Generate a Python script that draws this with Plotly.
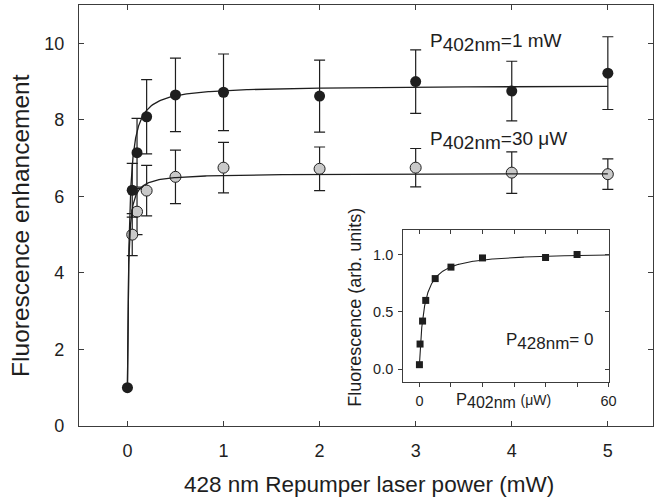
import numpy as np
import plotly.graph_objects as go

# ---------------- data ----------------
# Main panel: 428 nm repumper power (mW) vs fluorescence enhancement
power_1mw = [0, 0.05, 0.1, 0.2, 0.5, 1, 2, 3, 4, 5]
enh_1mw = [1.0, 6.16, 7.14, 8.08, 8.65, 8.72, 8.62, 9.0, 8.75, 9.22]
err_1mw = [None, 0.7, 0.9, 0.97, 0.96, 1.0, 0.94, 0.83, 0.78, 0.95]

power_30uw = [0.05, 0.1, 0.2, 0.5, 1, 2, 3, 4, 5]
enh_30uw = [5.0, 5.6, 6.15, 6.51, 6.75, 6.72, 6.75, 6.62, 6.58]
err_30uw = [0.55, 0.6, 0.66, 0.7, 0.66, 0.57, 0.5, 0.54, 0.4]

# Saturation-fit parameters  y = base + amp * x / (x + sat)
fit_1mw = dict(base=1.0, amp=7.9, sat=0.018)
fit_30uw = dict(base=1.0, amp=5.6, sat=0.010)

# Inset: P402nm (uW) vs fluorescence (arb. units), P428nm = 0
p402_uw = [0, 0.2, 1, 2, 5, 10, 20, 40, 50]
fluor = [0.04, 0.22, 0.42, 0.60, 0.79, 0.89, 0.97, 0.974, 1.0]
fit_inset = dict(base=0.04, amp=0.98, sat=1.5)

main_xticks = [0, 1, 2, 3, 4, 5]
main_yticks = [0, 2, 4, 6, 8, 10]
inset_xticks = [0, 60]
inset_xminor = 10
inset_yticks = [0, 0.5, 1.0]


def sat_curve(x, p):
    x = np.asarray(x, dtype=float)
    return p["base"] + p["amp"] * x / (x + p["sat"])


xfit = np.concatenate([np.linspace(0, 0.2, 300), np.linspace(0.2, 5, 300)[1:]])
xfit_in = np.concatenate([np.linspace(0, 5, 200), np.linspace(5, 60.2, 300)[1:]])

# ---------------- geometry ----------------
W, H = 660, 500
PL, PR, PT, PB = 79, 660, 5, 425.7


def paper(px, py):
    return (px - PL) / (PR - PL), (PB - py) / (PB - PT)


FONT = "Liberation Sans, Arial, Helvetica, sans-serif"
INK = "#1e1e1e"
AX = "#3c3c3c"

fig = go.Figure()

# gray series (P402 = 30 uW)
fig.add_trace(go.Scatter(
    x=power_30uw, y=enh_30uw, mode="markers",
    marker=dict(size=11, color="#c9c9c9", line=dict(color=INK, width=1)),
    error_y=dict(type="data", array=err_30uw, color=INK, thickness=1.2, width=5.5),
    showlegend=False, cliponaxis=False))
# black series (P402 = 1 mW)
fig.add_trace(go.Scatter(
    x=power_1mw, y=enh_1mw, mode="markers",
    marker=dict(size=11, color=INK, line=dict(color=INK, width=0)),
    error_y=dict(type="data", array=err_1mw, color=INK, thickness=1.2, width=5.5),
    showlegend=False, cliponaxis=False))
# fit curves
fig.add_trace(go.Scatter(x=xfit, y=sat_curve(xfit, fit_30uw), mode="lines",
                         line=dict(color=INK, width=1.3), showlegend=False))
fig.add_trace(go.Scatter(x=xfit, y=sat_curve(xfit, fit_1mw), mode="lines",
                         line=dict(color=INK, width=1.3), showlegend=False))

# inset
fig.add_trace(go.Scatter(x=xfit_in, y=sat_curve(xfit_in, fit_inset), mode="lines",
                         line=dict(color=INK, width=1.1), xaxis="x2", yaxis="y2",
                         showlegend=False))
fig.add_trace(go.Scatter(x=p402_uw, y=fluor, mode="markers",
                         marker=dict(symbol="square", size=7, color=INK),
                         xaxis="x2", yaxis="y2", showlegend=False, cliponaxis=False))
# empty traces to instantiate the mirrored inside-tick axes of the inset
fig.add_trace(go.Scatter(x=[], y=[], xaxis="x3", yaxis="y2", showlegend=False))
fig.add_trace(go.Scatter(x=[], y=[], xaxis="x2", yaxis="y3", showlegend=False))

ix0, _ = paper(407.3, 0)
ix1, _ = paper(615.7, 0)
_, iy0 = paper(0, 381.3)
_, iy1 = paper(0, 230)

common = dict(showgrid=False, zeroline=False, showline=True, linecolor=AX, linewidth=1.3,
              tickcolor=AX, tickwidth=1.2)

fig.update_layout(
    width=W, height=H,
    margin=dict(l=PL, r=W - PR, t=PT, b=H - PB, pad=0),
    paper_bgcolor="white", plot_bgcolor="white",
    font=dict(family=FONT, color=INK),
    xaxis=dict(range=[-0.504, 5.47], tickvals=main_xticks, ticks="inside", ticklen=5,
               mirror="ticks", tickfont=dict(size=18), ticklabelstandoff=8, **common),
    yaxis=dict(range=[0, 11], tickvals=main_yticks, ticks="inside", ticklen=5,
               mirror="ticks", tickfont=dict(size=18), ticklabelstandoff=10, **common),
    xaxis2=dict(domain=[ix0, ix1], anchor="y2", range=[-5.1, 60.2], tickvals=inset_xticks,
                ticks="outside", ticklen=4, mirror=True,
                minor=dict(dtick=inset_xminor, tick0=0, ticks="outside", ticklen=4,
                           tickcolor=AX, tickwidth=1.2),
                tickfont=dict(size=14.5), ticklabelstandoff=2, **common),
    yaxis2=dict(domain=[iy0, iy1], anchor="x2", range=[-0.107, 1.212], tickvals=inset_yticks,
                tickformat=".1f", ticks="outside", ticklen=4, mirror=True,
                tickfont=dict(size=14.5), ticklabelstandoff=2, **common),
    xaxis3=dict(overlaying="x2", anchor="y2", side="top", range=[-5.1, 60.2],
                tickmode="linear", tick0=0, dtick=inset_xminor, ticks="inside", ticklen=4,
                showticklabels=False, showgrid=False, zeroline=False, showline=False,
                tickcolor=AX, tickwidth=1.2),
    yaxis3=dict(overlaying="y2", anchor="x2", side="right", range=[-0.107, 1.212],
                tickvals=inset_yticks, ticks="inside", ticklen=4, showticklabels=False,
                showgrid=False, zeroline=False, showline=False, tickcolor=AX, tickwidth=1.2),
)

ann = []


def add_text(text, px, py, size, xanchor="center", yanchor="middle", angle=0):
    x, y = paper(px, py)
    ann.append(dict(text=text, x=x, y=y, xref="paper", yref="paper", showarrow=False,
                    xanchor=xanchor, yanchor=yanchor, textangle=angle,
                    font=dict(size=size, family=FONT, color=INK)))


add_text("Fluorescence enhancement", 19, 225, 24.5, angle=-90)
add_text("428 nm Repumper laser power (mW)", 373, 484.5, 22.5)
add_text("P<sub><span style='font-size:19px'>402nm</span></sub>=1 mW", 432, 42, 19,
         xanchor="left")
add_text("P<sub><span style='font-size:19px'>402nm</span></sub>=30 \u03bcW", 432, 140, 19,
         xanchor="left")
add_text("P<sub><span style='font-size:17px'>428nm</span></sub>= 0", 509, 341, 17,
         xanchor="left")
add_text("P<sub><span style='font-size:16px'>402nm</span></sub> "
         "<span style='font-size:14px'>(\u03bcW)</span>", 459, 400, 16.5, xanchor="left")
add_text("Fluorescence (arb. units)", 359, 307, 18, angle=-90)

fig.update_layout(annotations=ann)

fig.write_html("out.html",
               config={"displayModeBar": False},
               post_script="document.body.style.margin='0';"
                           "document.body.style.padding='0';")
